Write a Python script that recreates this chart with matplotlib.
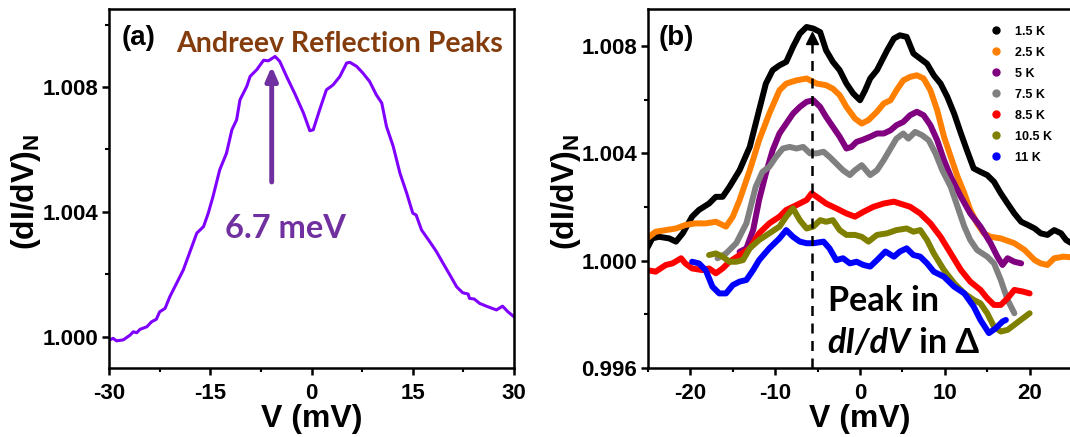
import matplotlib
matplotlib.use("Agg")
import matplotlib.pyplot as plt
from matplotlib.lines import Line2D
from matplotlib.ticker import MultipleLocator

plt.rcParams['font.family'] = ['Liberation Sans', 'DejaVu Sans']
plt.rcParams['font.weight'] = 'bold'
plt.rcParams['axes.unicode_minus'] = False
plt.rcParams['mathtext.fontset'] = 'custom'
plt.rcParams['mathtext.rm'] = 'Liberation Sans:bold'
plt.rcParams['mathtext.bf'] = 'Liberation Sans:bold'
plt.rcParams['mathtext.it'] = 'Liberation Sans:italic:bold'
plt.rcParams['mathtext.default'] = 'rm'

# ---- panel (a): single spectrum ----
va_mv = [-30, -29.4, -28.9, -27.9, -26.9, -26.4, -25.9, -25.4, -24.4, -23.7, -23.0, -22.5,
         -21.7, -21.0, -20.0, -19.0, -18.0, -17.0, -16.0, -15.3, -14.6, -13.6, -12.6, -11.8,
         -11.1, -10.6, -9.6, -9.1, -8.1, -7.1, -6.4, -5.4, -4.7, -3.7, -2.5, -1.2, -0.25, 0.25,
         1.2, 2.2, 3.2, 4.2, 5.2, 5.7, 6.7, 7.6, 8.6, 9.6, 10.4, 11.1, 12.1, 13.1, 14.1, 15.0,
         15.5, 16.3, 17.5, 18.5, 19.5, 20.5, 21.5, 22.4, 23.2, 23.4, 24.1, 24.9, 25.9, 27.4,
         28.3, 29.1, 30]
ga = [0.99989, 0.99995, 0.99987, 0.9999, 1.00005, 1.00016, 1.00013, 1.00024, 1.00032,
      1.00048, 1.00056, 1.0008, 1.00091, 1.00128, 1.00171, 1.00214, 1.00273, 1.00332,
      1.00353, 1.00396, 1.00449, 1.00535, 1.00588, 1.00663, 1.00695, 1.00759, 1.00802,
      1.00834, 1.00856, 1.00886, 1.00884, 1.00898, 1.00882, 1.00834, 1.0078, 1.00717,
      1.0066, 1.00663, 1.00727, 1.00791, 1.00807, 1.00834, 1.00877, 1.00879, 1.00866,
      1.00845, 1.00818, 1.00775, 1.00749, 1.00674, 1.0061, 1.00524, 1.0046, 1.00396,
      1.0039, 1.00342, 1.00305, 1.00273, 1.00235, 1.00198, 1.0016, 1.00141, 1.00137,
      1.00123, 1.00121, 1.00107, 1.00098, 1.00086, 1.00098, 1.0008, 1.00064]

# ---- panel (b): temperature series ----
temps = ['1.5 K', '2.5 K', '5 K', '7.5 K', '8.5 K', '10.5 K', '11 K']
colors = ['#000000', '#FF8000', '#800080', '#808080', '#FF0000', '#808000', '#0000FF']

v_15 = [-25.1, -24.5, -23.7, -22.5, -21.7, -20.9, -19.8, -19.0, -17.8, -17.0, -16.2, -15.4,
        -14.2, -13.0, -11.9, -11.1, -10.3, -9.5, -8.7, -7.9, -7.1, -6.3, -5.5, -4.7, -4.0,
        -3.2, -2.4, -1.6, -0.8, 0.0, 0.6, 1.2, 2.0, 3.2, 4.0, 4.7, 5.5, 6.3, 7.1, 7.9, 8.7,
        9.5, 10.3, 11.1, 11.9, 12.6, 13.4, 14.2, 15.0, 15.8, 16.6, 17.4, 18.2, 19.0, 19.8,
        20.6, 21.3, 22.1, 22.9, 23.7, 24.3, 25.2]
g_15 = [1.00046, 1.00083, 1.00089, 1.00083, 1.00071, 1.00102, 1.00164, 1.00189, 1.00213,
        1.00238, 1.00238, 1.00275, 1.00337, 1.00424, 1.00561, 1.0066, 1.0071, 1.00728,
        1.00741, 1.00797, 1.00846, 1.00871, 1.00865, 1.00852, 1.00784, 1.00741, 1.0071,
        1.0066, 1.00623, 1.00598, 1.00635, 1.00679, 1.0071, 1.00784, 1.00828, 1.0084,
        1.00834, 1.00772, 1.00753, 1.00734, 1.00691, 1.0066, 1.0061, 1.00548, 1.00474,
        1.00412, 1.00344, 1.00331, 1.00319, 1.00294, 1.00251, 1.00213, 1.00176, 1.00145,
        1.00133, 1.0012, 1.00102, 1.00096, 1.00114, 1.00102, 1.00077, 1.0006]

v_25 = [-25.1, -24.1, -22.9, -21.7, -20.6, -19.4, -18.2, -17.0, -15.8, -15.0, -14.2, -13.0,
        -11.9, -10.7, -9.5, -8.7, -7.5, -6.3, -5.1, -4.0, -3.2, -2.4, -1.6, -0.6, 0.2, 1.0,
        2.0, 2.8, 3.6, 4.3, 5.1, 5.9, 6.7, 7.5, 8.3, 9.1, 9.9, 10.7, 11.5, 12.3, 13.0, 13.8,
        14.6, 15.4, 16.6, 18.2, 19.4, 20.6, 21.3, 22.1, 22.9, 24.0, 25.2]
g_25 = [1.00083, 1.00108, 1.00114, 1.0012, 1.00133, 1.00139, 1.00139, 1.00145, 1.00127,
        1.00164, 1.00226, 1.00337, 1.00449, 1.00548, 1.00635, 1.0066, 1.00672, 1.00679,
        1.0066, 1.00654, 1.00641, 1.00617, 1.00573, 1.0053, 1.00511, 1.00524, 1.00555,
        1.00586, 1.00598, 1.00635, 1.00672, 1.00685, 1.00691, 1.00679, 1.00635, 1.00561,
        1.00462, 1.00387, 1.00313, 1.00251, 1.00189, 1.00139, 1.00102, 1.00089, 1.00083,
        1.00065, 1.0004, 1.00002, 0.9999, 0.99984, 1.00009, 1.00015, 1.00012]

v_5 = [-14.2, -13.4, -12.6, -11.9, -11.1, -10.3, -9.5, -8.7, -7.9, -7.1, -6.3, -5.5, -4.7,
       -4.0, -3.2, -2.4, -1.6, -1.0, -0.4, 0.2, 1.2, 2.0, 2.8, 3.6, 4.3, 5.1, 5.9, 6.7, 7.5,
       8.3, 9.1, 9.9, 10.7, 11.9, 13.0, 14.2, 15.4, 16.2, 16.8, 17.4, 18.2, 19.0]
g_5 = [1.00033, 1.00046, 1.00114, 1.00226, 1.00325, 1.00412, 1.00474, 1.00511, 1.00548,
       1.00573, 1.00592, 1.00598, 1.00573, 1.00536, 1.00499, 1.00462, 1.00418, 1.00424,
       1.00443, 1.00449, 1.00462, 1.00474, 1.00474, 1.00486, 1.00505, 1.00517, 1.00542,
       1.00555, 1.00542, 1.00505, 1.00449, 1.00375, 1.00313, 1.00238, 1.00176, 1.00127,
       1.00065, 1.00015, 0.99984, 1.00009, 0.99996, 0.9999]

v_75 = [-16.8, -15.8, -14.6, -13.4, -12.3, -11.5, -10.7, -9.9, -9.1, -8.3, -7.5, -6.7, -5.9,
        -5.1, -4.3, -3.6, -2.8, -2.0, -1.2, -0.6, 0.2, 1.2, 2.0, 2.8, 3.6, 4.3, 5.1, 5.7, 6.5,
        7.3, 8.1, 8.9, 9.7, 10.7, 11.5, 12.3, 13.0, 13.8, 15.0, 15.8, 16.6, 17.4, 18.2]
g_75 = [1.00009, 1.00027, 1.00065, 1.00139, 1.00275, 1.00331, 1.0035, 1.00387, 1.00418,
        1.00424, 1.00418, 1.00424, 1.004, 1.004, 1.00406, 1.00387, 1.00362, 1.00337,
        1.00319, 1.00337, 1.00356, 1.00319, 1.00337, 1.00375, 1.00418, 1.00455, 1.00474,
        1.00455, 1.0048, 1.00468, 1.00449, 1.004, 1.00337, 1.00275, 1.00201, 1.00127,
        1.00077, 1.0004, 1.00015, 0.9999, 0.99928, 0.99854, 0.99804]

v_85 = [-25.1, -24.1, -22.9, -22.1, -21.1, -20.6, -19.8, -18.6, -17.8, -17.0, -16.2, -15.4,
        -14.2, -13.0, -11.9, -10.7, -9.5, -8.7, -7.5, -6.3, -5.7, -5.1, -4.0, -2.8, -1.6,
        -0.6, 0.4, 1.6, 2.8, 4.0, 4.7, 5.9, 7.1, 8.3, 9.5, 10.7, 11.9, 13.0, 14.2, 15.0, 15.8,
        16.6, 17.4, 18.2, 19.2, 20.0]
g_85 = [0.99965, 0.99959, 0.99984, 0.9999, 1.00009, 0.9999, 0.99971, 0.99965, 0.99971,
        0.99953, 0.99971, 0.99996, 1.00021, 1.00046, 1.00102, 1.00139, 1.00164, 1.00189,
        1.00207, 1.00226, 1.00251, 1.00238, 1.00213, 1.00195, 1.00176, 1.00164, 1.00182,
        1.00201, 1.00213, 1.0022, 1.00213, 1.00201, 1.00176, 1.00139, 1.00089, 1.00027,
        0.99965, 0.99922, 0.99891, 0.9986, 0.99835, 0.99835, 0.9986, 0.99891, 0.99885,
        0.99878]

v_105 = [-17.8, -17.0, -16.2, -15.4, -14.6, -13.8, -13.0, -11.9, -10.7, -9.5, -8.7, -7.9,
         -7.1, -6.3, -5.5, -4.7, -4.0, -3.2, -2.4, -1.6, -0.6, 0.2, 1.0, 2.0, 3.2, 4.3, 5.5,
         6.3, 7.1, 7.9, 8.7, 9.9, 11.1, 12.3, 13.4, 14.2, 15.0, 15.8, 16.6, 17.4, 18.2, 19.2,
         20.0]
g_105 = [1.00021, 1.00027, 1.00015, 0.99996, 0.99996, 1.00002, 1.00046, 1.00077, 1.00102,
         1.00127, 1.00164, 1.00195, 1.00151, 1.0012, 1.00127, 1.00151, 1.00145, 1.00151,
         1.00114, 1.00096, 1.00096, 1.00089, 1.00071, 1.00096, 1.00102, 1.00114, 1.0012,
         1.00108, 1.00114, 1.00077, 1.00027, 0.99965, 0.99916, 0.99878, 0.99854, 0.99841,
         0.99804, 0.99754, 0.99736, 0.99742, 0.99761, 0.99785, 0.99804]

v_11 = [-19.8, -19.0, -18.2, -17.4, -16.6, -15.8, -15.0, -14.2, -13.4, -12.6, -11.9, -10.7,
        -9.5, -8.7, -7.9, -7.1, -6.3, -5.5, -4.3, -3.6, -2.8, -2.0, -1.2, -0.4, 0.4, 1.2,
        2.0, 3.0, 4.0, 4.7, 5.5, 6.3, 7.1, 7.9, 8.7, 9.9, 11.1, 12.3, 13.4, 14.2, 15.2, 16.0,
        16.8, 17.2]
g_11 = [0.99996, 0.9999, 0.99965, 0.99903, 0.99878, 0.99878, 0.99909, 0.99922, 0.99928,
        0.99965, 1.00002, 1.00046, 1.00083, 1.00114, 1.00089, 1.00071, 1.00065, 1.00065,
        1.00071, 1.00046, 1.00002, 1.00009, 0.9999, 0.99996, 0.99984, 0.99978, 1.00002,
        1.00034, 1.00015, 1.00034, 1.00046, 1.00021, 1.00015, 0.9999, 0.99959, 0.9994,
        0.99903, 0.99878, 0.99829, 0.99779, 0.9973, 0.99748, 0.99773, 0.99779]

series_v = [v_15, v_25, v_5, v_75, v_85, v_105, v_11]
series_g = [g_15, g_25, g_5, g_75, g_85, g_105, g_11]

peak_a = -5.9     # arrow position in (a)
peak_b = -5.7     # dashed marker in (b)

CAL = ['Lato', 'DejaVu Sans']

fig = plt.figure(figsize=(10.7, 4.37), dpi=100)
ax1 = fig.add_axes([0.1019, 0.1579, 0.3785, 0.8215])
ax2 = fig.add_axes([0.6056, 0.1579, 0.3963, 0.8215])


def style(ax):
    for s in ax.spines.values():
        s.set_linewidth(1.8)
    ax.tick_params(which='major', direction='out', length=5, width=1.8, labelsize=16)
    ax.tick_params(which='minor', direction='out', length=3, width=1.5)
    ax.tick_params(axis='x', pad=6)
    ax.tick_params(axis='y', pad=3)
    for lab in ax.get_xticklabels() + ax.get_yticklabels():
        lab.set_fontweight('bold')
    ax.set_xlabel('V (mV)', fontsize=23, fontweight='bold')
    ax.set_ylabel('(dI/dV)$_N$', fontsize=23, fontweight='bold')


# panel (a)
ax1.plot(va_mv, ga, color='#8000FF', lw=2.2)
ax1.set_xlim(-30, 30)
ax1.set_ylim(0.999, 1.0105)
ax1.set_xticks([-30, -15, 0, 15, 30])
ax1.xaxis.set_minor_locator(MultipleLocator(7.5))
ax1.set_yticks([1.000, 1.004, 1.008])
ax1.yaxis.set_minor_locator(MultipleLocator(0.002))
ax1.set_yticklabels(['1.000', '1.004', '1.008'])
style(ax1)
ax1.xaxis.set_label_coords(0.5, -0.1)
ax1.yaxis.set_label_coords(-0.163, 0.49)
ax1.text(0.03, 0.955, '(a)', transform=ax1.transAxes, fontsize=20, fontweight='bold',
         va='top', ha='left')
ax1.text(0.972, 0.94, 'Andreev Reflection Peaks', transform=ax1.transAxes, fontsize=20.5,
         fontweight='bold', color='#843C0C', va='top', ha='right', family=CAL)
ax1.annotate('', xy=(peak_a, 1.00875), xytext=(peak_a, 1.00487),
             arrowprops=dict(arrowstyle='-|>,head_length=0.8,head_width=0.35',
                             color='#7030A0', lw=3.5))
ax1.text(-3.9, 1.00348, '6.7 meV', fontsize=23.5, fontweight='bold', color='#7030A0',
         ha='center', va='center', family=CAL)

# panel (b)
for v, g, c, t in zip(series_v, series_g, colors, temps):
    ax2.plot(v, g, color=c, lw=4.3, solid_capstyle='round', label=t)
ax2.set_xlim(-25, 25)
ax2.set_ylim(0.996, 1.00938)
ax2.set_xticks([-20, -10, 0, 10, 20])
ax2.xaxis.set_minor_locator(MultipleLocator(5))
ax2.set_yticks([0.996, 1.000, 1.004, 1.008])
ax2.yaxis.set_minor_locator(MultipleLocator(0.002))
ax2.set_yticklabels(['0.996', '1.000', '1.004', '1.008'])
style(ax2)
ax2.xaxis.set_label_coords(0.5, -0.1)
ax2.yaxis.set_label_coords(-0.154, 0.49)
ax2.plot([peak_b, peak_b], [0.996, 1.0083], color='k', lw=1.8, ls=(0, (4, 3)), zorder=5)
ax2.plot([peak_b], [1.0083], marker='^', color='k', ms=9, zorder=5)
ax2.text(0.025, 0.955, '(b)', transform=ax2.transAxes, fontsize=20, fontweight='bold',
         va='top', ha='left')
ax2.text(-3.8, 0.99848, 'Peak in', fontsize=24.5, fontweight='bold', ha='left',
         va='center', family=CAL)
t2 = ax2.text(-3.8, 0.99692, 'dI/dV', fontsize=24.5, fontweight='bold', style='italic',
              ha='left', va='center', family=CAL)
ax2.annotate(' in \u0394', xy=(1, 0), xycoords=t2, fontsize=24.5, fontweight='bold',
             ha='left', va='bottom', family=CAL)

handles = [Line2D([], [], marker='o', ls='none', color=c, markersize=5) for c in colors]
leg = fig.legend(handles, temps, loc='upper left', bbox_to_anchor=(0.925, 0.941),
                 frameon=False, prop=dict(size=9, weight='bold'), handlelength=1,
                 handletextpad=1.0, labelspacing=0.72, borderpad=0, borderaxespad=0)

fig.savefig('out.png', dpi=100)
